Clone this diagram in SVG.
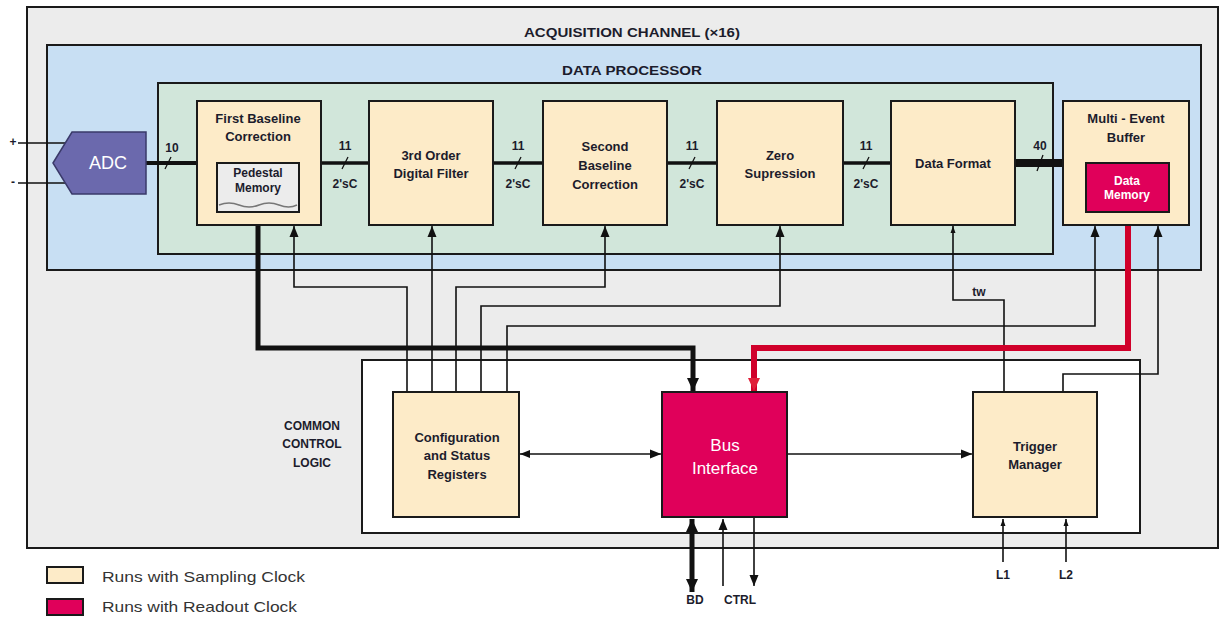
<svg xmlns="http://www.w3.org/2000/svg" width="1220" height="625" viewBox="0 0 1220 625">
<defs>
<style>
.box{fill:#fdebc8;stroke:#1a1a1a;stroke-width:2}
.red{fill:#e0005a;stroke:#1a1a1a;stroke-width:2}
.ln{fill:none;stroke:#111;stroke-width:1.6}
.t{font-family:"Liberation Sans",Arial,sans-serif;font-weight:bold;font-size:13px;fill:#1c1c2c;text-anchor:middle;dominant-baseline:central}
.s{font-size:12px}
.w{fill:#fff;font-weight:normal}
.lg{font-family:"Liberation Sans",Arial,sans-serif;font-size:15px;fill:#333;dominant-baseline:central}
</style>
<marker id="ah" markerUnits="userSpaceOnUse" markerWidth="10" markerHeight="10" refX="11" refY="5" orient="auto"><path d="M0,0.5 L11,5 L0,9.5 z" fill="#111"/></marker>
<marker id="ahs" markerUnits="userSpaceOnUse" markerWidth="8" markerHeight="6" refX="7" refY="3" orient="auto"><path d="M0,0.5 L7,3 L0,5.5 z" fill="#111"/></marker>
<marker id="ahst" markerUnits="userSpaceOnUse" markerWidth="10" markerHeight="10" refX="0" refY="5" orient="auto"><path d="M11,0.5 L0,5 L11,9.5 z" fill="#111"/></marker>
<marker id="ahk" markerUnits="userSpaceOnUse" markerWidth="14" markerHeight="12" refX="13" refY="6" orient="auto"><path d="M0,0 L13,6 L0,12 z" fill="#111"/></marker>
<marker id="ahkst" markerUnits="userSpaceOnUse" markerWidth="14" markerHeight="12" refX="0" refY="6" orient="auto"><path d="M13,0 L0,6 L13,12 z" fill="#111"/></marker>
<marker id="ahr" markerUnits="userSpaceOnUse" markerWidth="14" markerHeight="12" refX="13" refY="6" orient="auto"><path d="M0,0 L13,6 L0,12 z" fill="#e0203a"/></marker>
</defs>

<!-- containers -->
<g id="acq-channel">
<rect x="27" y="7" width="1191" height="541" fill="#ececec" stroke="#1a1a1a" stroke-width="2"/>
<text class="t s" x="632" y="33" textLength="216" lengthAdjust="spacingAndGlyphs">ACQUISITION CHANNEL (×16)</text>
</g>
<g id="data-processor">
<rect x="47" y="45" width="1154" height="225" fill="#c8dff3" stroke="#1a1a1a" stroke-width="2"/>
<text class="t s" x="632" y="71" textLength="140" lengthAdjust="spacingAndGlyphs">DATA PROCESSOR</text>
</g>
<rect x="158" y="83" width="895" height="171" fill="#d1e6da" stroke="#1a1a1a" stroke-width="2"/>
<g id="common-control-logic">
<rect x="362" y="360" width="778" height="173" fill="#fff" stroke="#1a1a1a" stroke-width="2"/>
<text class="t s" x="312" y="426">COMMON</text>
<text class="t s" x="312" y="444">CONTROL</text>
<text class="t s" x="312" y="463">LOGIC</text>
</g>

<!-- connectors -->
<g id="connectors">
<line x1="18" y1="143" x2="72" y2="143" class="ln"/>
<line x1="18" y1="183" x2="72" y2="183" class="ln"/>
<line x1="146" y1="163" x2="197" y2="163" stroke="#111" stroke-width="4"/>
<line x1="321" y1="163" x2="369" y2="163" stroke="#111" stroke-width="3.5"/>
<line x1="493" y1="163" x2="543" y2="163" stroke="#111" stroke-width="3.5"/>
<line x1="667" y1="163" x2="717" y2="163" stroke="#111" stroke-width="3.5"/>
<line x1="843" y1="163" x2="891" y2="163" stroke="#111" stroke-width="3.5"/>
<line x1="1015" y1="163" x2="1063" y2="163" stroke="#111" stroke-width="8"/>
<g stroke="#111" stroke-width="1.3">
<line x1="165" y1="169" x2="171" y2="157"/>
<line x1="342" y1="169" x2="348" y2="157"/>
<line x1="515" y1="169" x2="521" y2="157"/>
<line x1="689" y1="169" x2="695" y2="157"/>
<line x1="863" y1="169" x2="869" y2="157"/>
<line x1="1037" y1="171" x2="1043" y2="155"/>
</g>
<polyline points="407,392 407,287 294,287 294,226" class="ln" marker-end="url(#ah)"/>
<polyline points="432,392 432,226" class="ln" marker-end="url(#ah)"/>
<polyline points="456,392 456,287 605,287 605,226" class="ln" marker-end="url(#ah)"/>
<polyline points="481,392 481,306 780,306 780,226" class="ln" marker-end="url(#ah)"/>
<polyline points="507,392 507,326 1095,326 1095,226" class="ln" marker-end="url(#ah)"/>
<polyline points="1004,392 1004,300 953,300 953,226" class="ln" marker-end="url(#ahs)"/>
<polyline points="1063,392 1063,374 1158,374 1158,226" class="ln" marker-end="url(#ah)"/>
<polyline points="258,213 258,348 693,348 693,391" fill="none" stroke="#111" stroke-width="5" marker-end="url(#ahk)"/>
<polyline points="1128,213 1128,348 754,348 754,391" fill="none" stroke="#d0002a" stroke-width="6" marker-end="url(#ahr)"/>
<line x1="520" y1="454" x2="661" y2="454" class="ln" marker-start="url(#ahst)" marker-end="url(#ah)"/>
<line x1="788" y1="454" x2="972" y2="454" class="ln" marker-end="url(#ah)"/>
<line x1="692" y1="519" x2="692" y2="592" stroke="#111" stroke-width="5" marker-start="url(#ahkst)" marker-end="url(#ahk)"/>
<line x1="723" y1="586" x2="723" y2="519" class="ln" marker-end="url(#ah)"/>
<line x1="754" y1="518" x2="754" y2="586" class="ln" marker-end="url(#ah)"/>
<line x1="1003" y1="562" x2="1003" y2="519" class="ln" marker-end="url(#ahs)"/>
<line x1="1066" y1="562" x2="1066" y2="519" class="ln" marker-end="url(#ahs)"/>
</g>

<!-- labels on connectors -->
<g id="connector-labels">
<text class="t s" x="13" y="142">+</text>
<text class="t s" x="13" y="182">-</text>
<text class="t s" x="172" y="148">10</text>
<text class="t s" x="345" y="146">11</text><text class="t s" x="345" y="184">2'sC</text>
<text class="t s" x="518" y="146">11</text><text class="t s" x="518" y="184">2'sC</text>
<text class="t s" x="692" y="146">11</text><text class="t s" x="692" y="184">2'sC</text>
<text class="t s" x="866" y="146">11</text><text class="t s" x="866" y="184">2'sC</text>
<text class="t s" x="1040" y="146">40</text>
<text class="t s" x="979" y="292">tw</text>
<text class="t s" x="695" y="600">BD</text>
<text class="t s" x="740" y="600">CTRL</text>
<text class="t s" x="1003" y="575">L1</text>
<text class="t s" x="1066" y="575">L2</text>
</g>

<!-- nodes -->
<g id="adc">
<polygon points="53,163 72,132 146,132 146,194 72,194" fill="#6b69ad" stroke="#3a3a6a" stroke-width="1.5"/>
<text class="t w" x="108" y="163" style="font-size:18px">ADC</text>
</g>
<g id="first-baseline">
<rect class="box" x="197" y="101" width="124" height="124"/>
<text class="t" x="258" y="118">First Baseline</text>
<text class="t" x="258" y="136">Correction</text>
</g>
<g id="pedestal-memory">
<rect x="217" y="163" width="82" height="49" fill="#ececec" stroke="#1a1a1a" stroke-width="2"/>
<path d="M219,205 q10,-4 20,0 t20,0 t20,0 t18,0" fill="none" stroke="#777" stroke-width="1.5"/>
<text class="t s" x="258" y="173">Pedestal</text>
<text class="t s" x="258" y="188">Memory</text>
</g>
<g id="digital-filter">
<rect class="box" x="369" y="101" width="124" height="124"/>
<text class="t" x="431" y="155">3rd Order</text>
<text class="t" x="431" y="173">Digital Filter</text>
</g>
<g id="second-baseline">
<rect class="box" x="543" y="101" width="124" height="124"/>
<text class="t" x="605" y="146">Second</text>
<text class="t" x="605" y="165">Baseline</text>
<text class="t" x="605" y="184">Correction</text>
</g>
<g id="zero-supression">
<rect class="box" x="717" y="101" width="126" height="124"/>
<text class="t" x="780" y="155">Zero</text>
<text class="t" x="780" y="173">Supression</text>
</g>
<g id="data-format">
<rect class="box" x="891" y="101" width="124" height="124"/>
<text class="t" x="953" y="163">Data Format</text>
</g>
<g id="multi-event-buffer">
<rect class="box" x="1063" y="101" width="126" height="124"/>
<text class="t" x="1126" y="118">Multi - Event</text>
<text class="t" x="1126" y="137">Buffer</text>
</g>
<g id="data-memory">
<rect class="red" x="1086" y="163" width="83" height="49"/>
<text class="t s" x="1127" y="181" style="fill:#fff">Data</text>
<text class="t s" x="1127" y="195" style="fill:#fff">Memory</text>
</g>
<g id="config-status">
<rect class="box" x="393" y="392" width="126" height="125"/>
<text class="t" x="457" y="437">Configuration</text>
<text class="t" x="457" y="455">and Status</text>
<text class="t" x="457" y="474">Registers</text>
</g>
<g id="bus-interface">
<rect class="red" x="662" y="392" width="125" height="125"/>
<text class="t w" x="725" y="445" style="font-size:17px">Bus</text>
<text class="t w" x="725" y="468" style="font-size:17px">Interface</text>
</g>
<g id="trigger-manager">
<rect class="box" x="973" y="392" width="124" height="125"/>
<text class="t" x="1035" y="446">Trigger</text>
<text class="t" x="1035" y="464">Manager</text>
</g>

<!-- legend -->
<g id="legend">
<rect x="47" y="567" width="36" height="16" fill="#fdebc8" stroke="#1a1a1a" stroke-width="2"/>
<rect x="47" y="599" width="36" height="16" fill="#e0005a" stroke="#1a1a1a" stroke-width="2"/>
<text class="lg" x="102" y="576" textLength="203" lengthAdjust="spacingAndGlyphs">Runs with Sampling Clock</text>
<text class="lg" x="102" y="606" textLength="195" lengthAdjust="spacingAndGlyphs">Runs with Readout Clock</text>
</g>
</svg>
